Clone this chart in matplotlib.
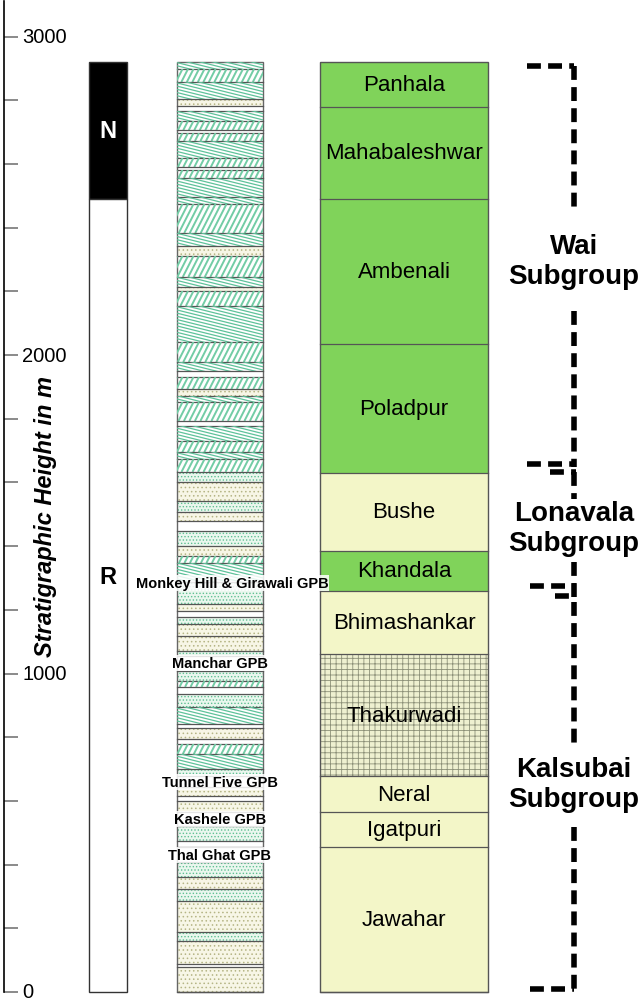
import matplotlib
matplotlib.use("Agg")
import matplotlib.pyplot as plt
from matplotlib.patches import Rectangle
from matplotlib.collections import LineCollection
import numpy as np

plt.rcParams['font.family'] = ['Liberation Sans', 'DejaVu Sans']
plt.rcParams['hatch.linewidth'] = 0.6

# ---- DATA (metres) ----
formations = ["Panhala", "Mahabaleshwar", "Ambenali", "Poladpur", "Bushe", "Khandala",
              "Bhimashankar", "Thakurwadi", "Neral", "Igatpuri", "Jawahar"]
form_top = [2920, 2780, 2490, 2035, 1630, 1385, 1259, 1061, 678, 565, 455]
form_base = [2780, 2490, 2035, 1630, 1385, 1259, 1061, 678, 565, 455, 0]
form_kind = ["wai", "wai", "wai", "wai", "pale", "wai", "pale", "grid", "pale", "pale", "pale"]

polarity = ["N", "R"]
pol_top = [2920, 2490]
pol_base = [2490, 0]

# lithology column: boundaries from top to bottom and the rock type between them
litho_bounds = [2920, 2898, 2857, 2804, 2782, 2766, 2735, 2706, 2697, 2672, 2619, 2590, 2581,
                2556, 2496, 2474, 2383, 2342, 2311, 2245, 2214, 2201, 2154, 2041, 1978, 1950,
                1931, 1893, 1871, 1852, 1793, 1777, 1730, 1695, 1673, 1633, 1601, 1542, 1507,
                1479, 1447, 1400, 1369, 1347, 1287, 1218, 1196, 1177, 1155, 1118, 1071, 1055,
                1008, 976, 958, 936, 895, 841, 829, 794, 779, 747, 700, 678, 644, 615, 600,
                565, 521, 474, 455, 408, 361, 323, 286, 188, 160, 88, 78, 0]
litho_type = ["sh", "st", "sh", "tn", "w", "sh", "st", "w", "st", "sh", "st", "w",
              "st", "sh", "sh", "st", "sh", "tn", "st", "sh", "tn", "st", "sh", "st", "sh",
              "w", "st", "tn", "sh", "st", "w", "sh", "st", "sh", "st", "gw", "tn", "gw",
              "tn", "w", "gw", "tn", "st", "sh", "gw", "tn", "w", "gw", "tn", "tn", "gw",
              "w", "gw", "st", "w", "gw", "sh", "w", "tn", "w", "st", "sh", "gw", "w",
              "tn", "w", "tn", "w", "gw", "w", "w", "gw", "tn", "gw", "tn", "gw", "tn",
              "w", "tn"]

gpb_names = ["Monkey Hill & Girawali GPB", "Manchar GPB", "Tunnel Five GPB", "Kashele GPB", "Thal Ghat GPB"]
gpb_height = [1284, 1033, 659, 543, 430]
gpb_x = [232, 220, 220, 220, 219]

subgroups = ["Wai\nSubgroup", "Lonavala\nSubgroup", "Kalsubai\nSubgroup"]
subgroup_mid = [2295, 1457, 653]

# bracket dashed segments: (x0, y0, x1, y1)
brackets = [
    (527, 2907, 574, 2907), (574, 2907, 574, 2465),
    (574, 2138, 574, 1648), (527, 1658, 576, 1658), (550, 1633, 576, 1633),
    (574, 1633, 574, 1548),
    (574, 1350, 574, 1225), (530, 1275, 576, 1275), (555, 1243, 576, 1243),
    (574, 1225, 574, 763),
    (574, 518, 574, 9), (530, 9, 574, 9),
]

S = 0.3185  # px per metre

fig = plt.figure(figsize=(6.43, 10.04), dpi=100)
ax = fig.add_axes([0, 0, 1, 1])
ax.set_xlim(0, 643)
ax.set_ylim((993 - 1004) / S, 993 / S)
for sp in ["top", "right", "bottom"]:
    ax.spines[sp].set_visible(False)
ax.spines["left"].set_position(("data", 3.5))
ax.spines["left"].set_bounds(0, 3110)
ax.spines["left"].set_linewidth(1.2)
ax.set_xticks([])
ax.set_yticks(np.arange(0, 3001, 200))
ax.tick_params(axis="y", direction="in", length=10, width=1.2, color="#777777", labelleft=False)
for v in [0, 1000, 2000, 3000]:
    ax.text(22, v, str(v), fontsize=14.5, va="center", ha="left")

ax.text(46, 1495, "Stratigraphic Height in m", rotation=90, fontsize=17,
        fontweight="bold", fontstyle="italic", ha="center", va="center")


def line_hatch(x0, x1, y0, y1, steep, color):
    rect = Rectangle((x0, y0), x1 - x0, y1 - y0, fc="none", ec="none")
    ax.add_patch(rect)
    segs = []
    h_px = (y1 - y0) * S
    if steep:
        run = h_px / np.tan(np.radians(63))
        for xs in np.arange(x0 - run, x1, 5.5):
            segs.append([(xs, y0), (xs + run, y1)])
    else:
        w = x1 - x0
        drop = w * np.tan(np.radians(14)) / S
        for ys in np.arange(y0, y1 + drop, 3.2 / S):
            segs.append([(x0, ys), (x1, ys - drop)])
    lc = LineCollection(segs, colors=color, linewidths=1.4 if steep else 0.9)
    ax.add_collection(lc)
    lc.set_clip_path(rect)


# polarity column
for p, t, b in zip(polarity, pol_top, pol_base):
    black = p == "N"
    ax.add_patch(Rectangle((89, b), 38, t - b, fc="black" if black else "white", ec="#333333", lw=1))
ax.text(108, 2705, "N", color="white", fontsize=17, fontweight="bold", ha="center", va="center")
ax.text(108, 1303, "R", color="black", fontsize=17, fontweight="bold", ha="center", va="center")

# lithology column
lx0, lx1 = 177, 263
for i, kind in enumerate(litho_type):
    t, b = litho_bounds[i], litho_bounds[i + 1]
    if kind == "st":
        ax.add_patch(Rectangle((lx0, b), lx1 - lx0, t - b, fc="white", ec="none"))
        line_hatch(lx0, lx1, b, t, True, "#72cca5")
    elif kind == "sh":
        ax.add_patch(Rectangle((lx0, b), lx1 - lx0, t - b, fc="white", ec="none"))
        line_hatch(lx0, lx1, b, t, False, "#5ec29a")
    elif kind == "tn":
        ax.add_patch(Rectangle((lx0, b), lx1 - lx0, t - b, fc="#f7f6e6", ec="#b5b585", lw=0, hatch="...."))
    elif kind == "gw":
        ax.add_patch(Rectangle((lx0, b), lx1 - lx0, t - b, fc="#eaf7ee", ec="#5fc093", lw=0, hatch="....."))
    else:
        ax.add_patch(Rectangle((lx0, b), lx1 - lx0, t - b, fc="white", ec="none"))
    ax.plot([lx0, lx1], [b, b], color="#555555", lw=0.9)
ax.add_patch(Rectangle((lx0, 0), lx1 - lx0, 2920, fc="none", ec="#666666", lw=1))

for name, h, x in zip(gpb_names, gpb_height, gpb_x):
    ax.text(x, h, name, fontsize=10.5, fontweight="bold",
            ha="center", va="center",
            bbox=dict(fc="white", ec="none", pad=0.5, alpha=0.85))

# formation column
fx0, fx1 = 320, 488
fill = {"wai": "#80d35a", "pale": "#f3f6c8", "grid": "#eef0d0"}
for name, t, b, kind in zip(formations, form_top, form_base, form_kind):
    if kind == "grid":
        ax.add_patch(Rectangle((fx0, b), fx1 - fx0, t - b, fc=fill[kind], ec="#8c9078", lw=0, hatch="+++"))
    else:
        ax.add_patch(Rectangle((fx0, b), fx1 - fx0, t - b, fc=fill[kind], ec="none"))
    ax.plot([fx0, fx1], [b, b], color="#555555", lw=0.9)
    ax.text((fx0 + fx1) / 2, (t + b) / 2, name, fontsize=16, ha="center", va="center")
ax.add_patch(Rectangle((fx0, 0), fx1 - fx0, 2920, fc="none", ec="#555555", lw=1))

# subgroup brackets
for x0, y0, x1, y1 in brackets:
    ax.plot([x0, x1], [y0, y1], color="black", lw=4, linestyle=(0, (2.5, 1.3)), solid_capstyle="butt")
for name, m in zip(subgroups, subgroup_mid):
    ax.text(574, m, name, fontsize=20, fontweight="bold", ha="center", va="center", linespacing=1.2)

fig.savefig("out.png", dpi=100)
